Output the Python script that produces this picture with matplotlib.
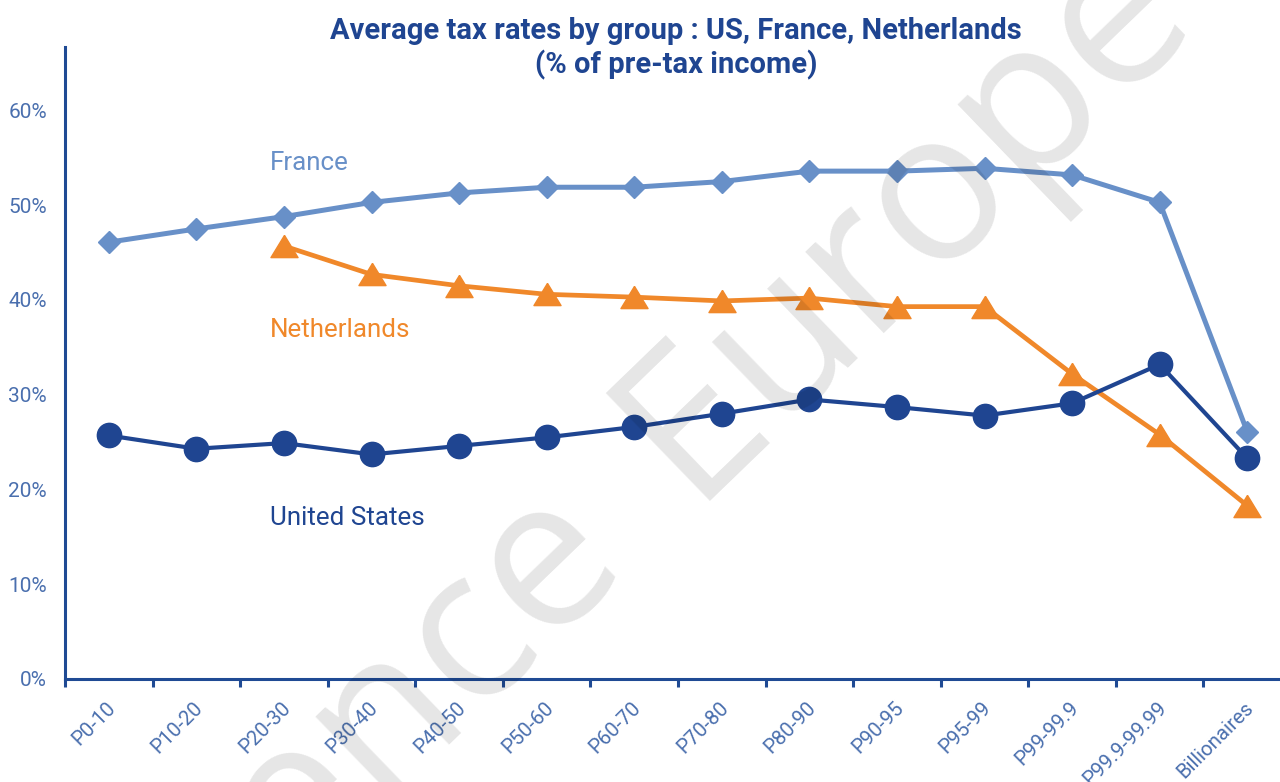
import numpy as np
import matplotlib
matplotlib.use("Agg")
import matplotlib.pyplot as plt
from matplotlib.transforms import ScaledTranslation

plt.rcParams['font.family'] = ['Roboto', 'DejaVu Sans']

categories = ['P0-10', 'P10-20', 'P20-30', 'P30-40', 'P40-50', 'P50-60', 'P60-70',
              'P70-80', 'P80-90', 'P90-95', 'P95-99', 'P99-99.9', 'P99.9-99.99',
              'Billionaires']
france = [46.1, 47.5, 48.8, 50.3, 51.3, 51.9, 51.9, 52.5, 53.6, 53.6, 53.9, 53.2, 50.3, 26.1]
netherlands = [np.nan, np.nan, 45.7, 42.7, 41.5, 40.6, 40.3, 39.9, 40.2, 39.3, 39.3, 32.2, 25.8, 18.3]
united_states = [25.7, 24.3, 24.9, 23.7, 24.6, 25.5, 26.6, 28.0, 29.5, 28.7, 27.8, 29.1, 33.2, 23.3]
yticks = [0, 10, 20, 30, 40, 50, 60]
ytick_labels = ['0%', '10%', '20%', '30%', '40%', '50%', '60%']

C_FR = '#6890c8'
C_NL = '#f0882a'
C_US = '#1f4591'
C_AX = '#1f4a94'
C_TICK = '#4a6fae'

W, H = 1280, 782
fig = plt.figure(figsize=(W / 100, H / 100), dpi=100)
ax = fig.add_axes([65 / W, 103 / H, 1226 / W, 632 / H])

x = np.arange(len(categories))
tri = [(0, 0.82), (-1, -0.82), (1, -0.82), (0, 0.82)]

ax.plot(x, france, color=C_FR, lw=3.6, marker='D', ms=11, mec=C_FR, mfc=C_FR, zorder=3)
ax.plot(x, netherlands, color=C_NL, lw=3.4, marker=tri, ms=19.5, mec=C_NL, mfc=C_NL, zorder=3)
ax.plot(x, united_states, color=C_US, lw=3.0, marker='o', ms=17.5, mec=C_US, mfc=C_US, zorder=4)

ax.set_xlim(-0.5, len(categories) - 0.5)
ax.set_ylim(0, 66.7)

for s in ['top', 'right']:
    ax.spines[s].set_visible(False)
for s in ['left', 'bottom']:
    ax.spines[s].set_color(C_AX)
    ax.spines[s].set_linewidth(2.2)

ax.set_yticks(yticks)
ax.set_yticklabels(ytick_labels, color=C_TICK, fontsize=15)
ax.tick_params(axis='y', length=0, pad=13)

ax.set_xticks(x)
ax.set_xticklabels(categories, rotation=45, ha='right', va='top',
                   rotation_mode='anchor', color=C_TICK, fontsize=14.7)
ax.tick_params(axis='x', which='major', length=0, pad=14)
ax.set_xticks(np.arange(-0.5, len(categories), 1), minor=True)
ax.tick_params(axis='x', which='minor', length=6, width=2.2, color=C_AX, direction='out')
shift = ScaledTranslation(-3 / 100, 0, fig.dpi_scale_trans)
for lab in ax.get_xticklabels():
    lab.set_transform(lab.get_transform() + shift)

ax.text(1.84, 54.5, 'France', color=C_FR, fontsize=18.7, va='center', ha='left')
ax.text(1.84, 36.8, 'Netherlands', color=C_NL, fontsize=18.7, va='center', ha='left')
ax.text(1.84, 17.0, 'United States', color=C_US, fontsize=18.7, va='center', ha='left')

fig.text(676 / W, 1 - 39 / H, 'Average tax rates by group : US, France, Netherlands',
         ha='center', va='baseline', fontsize=21, fontweight='bold', color=C_US)
fig.text(676 / W, 1 - 73 / H, '(% of pre-tax income)',
         ha='center', va='baseline', fontsize=21, fontweight='bold', color=C_US)

# watermark
ang = 44
bx, by = np.cos(np.radians(ang)), -np.sin(np.radians(ang))
ex, ey = 690, 501
fig.text(ex / W, 1 - ey / H, 'Europe', rotation=ang, rotation_mode='anchor',
         ha='left', va='baseline', fontsize=151, family='Open Sans',
         color='black', alpha=0.1, zorder=10)
gx, gy = ex - 86 * bx, ey - 86 * by
fig.text(gx / W, 1 - gy / H, 'ence', rotation=ang, rotation_mode='anchor',
         ha='right', va='baseline', fontsize=151, family='Open Sans',
         color='black', alpha=0.1, zorder=10)

fig.savefig('out.png', dpi=100)
